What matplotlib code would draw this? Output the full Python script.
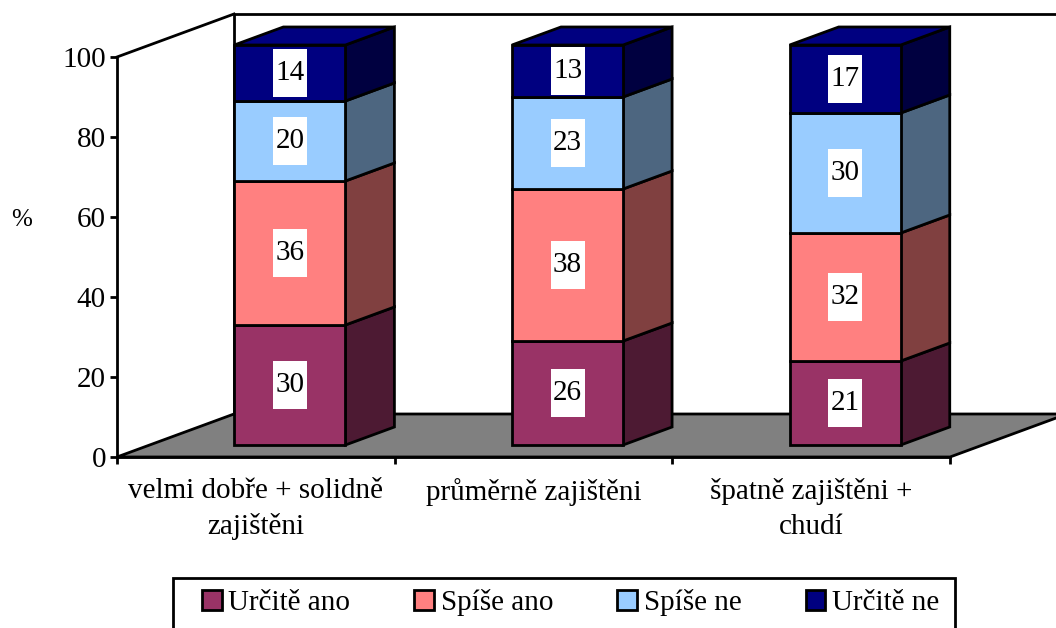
import numpy as np
import matplotlib
matplotlib.use('Agg')
import matplotlib.pyplot as plt
from matplotlib.patches import Polygon, Rectangle, Patch

# survey shares (%) by financial situation
categories = ['velmi dobře + solidně\nzajištěni', 'průměrně zajištěni', 'špatně zajištěni +\nchudí']
series = ['Určitě ano', 'Spíše ano', 'Spíše ne', 'Určitě ne']
urcite_ano = [30, 26, 21]
spise_ano = [36, 38, 32]
spise_ne = [20, 23, 30]
urcite_ne = [14, 13, 17]
yticks = [0, 20, 40, 60, 80, 100]

front_clr = ['#993366', '#FF8080', '#99CCFF', '#000080']
side_clr = ['#4D1A33', '#804040', '#4D6680', '#000040']

plt.rcParams['font.family'] = ['Liberation Serif', 'DejaVu Serif']
fs = 21

W, H, DPI = 1056, 628, 100
fig = plt.figure(figsize=(W / DPI, H / DPI), dpi=DPI)
ax = fig.add_axes([117 / W, (H - 457) / H, 833 / W, 400 / H])
ax.set_xlim(0, 3)
ax.set_ylim(0, 100)
ax.patch.set_visible(False)

# depth of the 3d box expressed in data units (x: categories, y: percent)
DXD = 117 / 277.7
DYD = 43 / 4.0
d0, d1 = 0.279, 0.698
bar_off, bar_w = 0.305, 0.40
box_w, box_h = 34 / 277.7, 12.0
lw = 2.0


def p3(x, y, d):
    return (x + d * DXD, y + d * DYD)


def poly(pts, fc, z, ec='black', fill=True):
    pg = Polygon([p3(*q) for q in pts], closed=True, facecolor=fc, edgecolor=ec,
                 lw=lw, fill=fill, zorder=z, clip_on=False, joinstyle='miter')
    ax.add_patch(pg)


# floor
poly([(0, 0, 0), (3, 0, 0), (3, 0, 1), (0, 0, 1)], '#808080', 1)

# walls (only edges are drawn)
wall = [p3(3.2, 100, 1), p3(0, 100, 1), p3(0, 0, 1)]
ax.plot([q[0] for q in wall], [q[1] for q in wall], color='black', lw=lw, clip_on=False, zorder=1)
side = [p3(0, 100, 0), p3(0, 100, 1)]
ax.plot([q[0] for q in side], [q[1] for q in side], color='black', lw=lw, clip_on=False, zorder=1)

# stacked 3d bars
data = np.array([urcite_ano, spise_ano, spise_ne, urcite_ne], dtype=float)
bottoms = np.vstack([np.zeros(3), np.cumsum(data, axis=0)[:-1]])
for i in range(len(categories)):
    xl = i + bar_off
    xr = xl + bar_w
    for k in range(len(series)):
        y0 = bottoms[k, i]
        y1 = y0 + data[k, i]
        poly([(xr, y0, d0), (xr, y1, d0), (xr, y1, d1), (xr, y0, d1)], side_clr[k], 3)
        poly([(xl, y0, d0), (xr, y0, d0), (xr, y1, d0), (xl, y1, d0)], front_clr[k], 4)
        if k == len(series) - 1:
            poly([(xl, y1, d0), (xr, y1, d0), (xr, y1, d1), (xl, y1, d1)], front_clr[k], 3)
        cx, cy = p3((xl + xr) / 2, (y0 + y1) / 2, d0)
        ax.add_patch(Rectangle((cx - box_w / 2, cy - box_h / 2), box_w, box_h,
                               facecolor='white', edgecolor='none', zorder=5, clip_on=False))
        ax.text(cx, cy, '%d' % data[k, i], ha='center', va='center', fontsize=fs, zorder=6)

# axes
for s in ['top', 'right']:
    ax.spines[s].set_visible(False)
for s in ['left', 'bottom']:
    ax.spines[s].set_linewidth(lw)
    ax.spines[s].set_zorder(2)
ax.set_yticks(yticks)
ax.set_yticklabels([str(t) for t in yticks])
ax.tick_params(axis='y', direction='out', length=5, width=lw, pad=3, labelsize=fs)
ax.set_xticks([0, 1, 2, 3])
ax.set_xticklabels([])
ax.tick_params(axis='x', which='major', direction='out', length=5, width=lw)
ax.set_xticks([0.5, 1.5, 2.5], categories, minor=True)
ax.tick_params(axis='x', which='minor', length=0, pad=15, labelsize=fs)
for t in ax.get_xticklabels(minor=True):
    t.set_linespacing(1.45)

fig.text(22 / W, 1 - 220 / H, '%', ha='center', va='center', fontsize=fs - 3)

# legend
handles = [Patch(facecolor=c, edgecolor='black', lw=lw) for c in front_clr]
fig.legend(handles, series, ncol=4, frameon=False, loc='center left',
           bbox_to_anchor=(202 / W, 1 - 603 / H), borderpad=0, borderaxespad=0,
           handlelength=0.68, handleheight=0.68, handletextpad=0.22,
           columnspacing=2.2, fontsize=fs)
fig.add_artist(Rectangle((173 / W, -0.01), (955 - 173) / W, 0.01 + (628 - 578) / H,
                         transform=fig.transFigure, fill=False, edgecolor='black', lw=lw))

fig.savefig('out.png', dpi=DPI)
